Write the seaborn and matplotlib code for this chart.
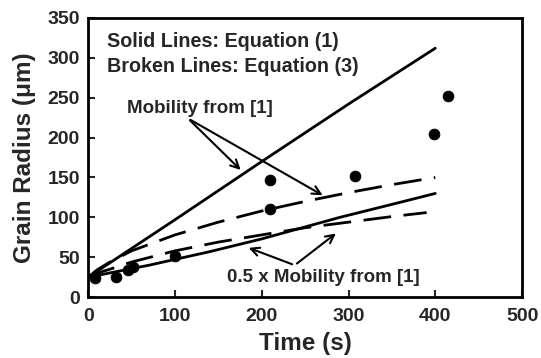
import matplotlib
matplotlib.use("Agg")
import matplotlib.pyplot as plt
import seaborn as sns

# ---- data ----
exp_time = [8, 32, 46, 52, 100, 209, 209, 308, 398, 415]
exp_radius = [24, 25, 34, 38, 52, 147, 111, 152, 205, 252]

eq1_time = [0, 100, 200, 300, 400]
eq1_full = [25, 97, 170, 242, 312]          # solid, mobility from [1]
eq1_half_time = [0, 70, 140, 200, 290, 360, 400]
eq1_half = [25, 40, 57, 73, 100, 119, 130]  # solid, 0.5 x mobility

eq3_time = [0, 10, 25, 50, 100, 150, 200, 250, 300, 350, 400]
eq3_full = [25, 34, 44, 58, 78, 94, 108, 120, 131, 141, 150]   # broken, mobility from [1]
eq3_half_time = [0, 10, 25, 50, 100, 150, 200, 250, 300, 350, 390]
eq3_half = [25, 30, 35, 44, 58, 69, 78, 87, 94, 101, 106]      # broken, 0.5 x mobility

x_ticks = [0, 100, 200, 300, 400, 500]
y_ticks = [0, 50, 100, 150, 200, 250, 300, 350]

sns.set_style("white")
plt.rcParams["font.family"] = ["Liberation Sans", "DejaVu Sans"]
plt.rcParams["font.weight"] = "bold"

fig = plt.figure(figsize=(5.41, 3.58), dpi=100)
ax = fig.add_axes([0.163, 0.170, 0.802, 0.780])

lw = 2.0
sns.lineplot(x=eq1_time, y=eq1_full, ax=ax, color="black", lw=lw)
sns.lineplot(x=eq1_half_time, y=eq1_half, ax=ax, color="black", lw=lw)
sns.lineplot(x=eq3_time, y=eq3_full, ax=ax, color="black", lw=lw)
sns.lineplot(x=eq3_half_time, y=eq3_half, ax=ax, color="black", lw=lw)
for line in ax.lines[2:4]:
    line.set_dashes((10, 4.5))
    line.set_dash_capstyle("butt")

sns.scatterplot(x=exp_time, y=exp_radius, ax=ax, color="black", s=60,
                edgecolor="black", zorder=5)

ax.set_xlim(0, 500)
ax.set_ylim(0, 350)
ax.set_xticks(x_ticks)
ax.set_yticks(y_ticks)
ax.tick_params(direction="in", length=5, width=1.5, labelsize=14,
               top=False, right=False, bottom=True, left=True)
ax.tick_params(axis="x", pad=8)
ax.tick_params(axis="y", pad=6)
for lab in ax.get_xticklabels() + ax.get_yticklabels():
    lab.set_fontweight("bold")
for sp in ax.spines.values():
    sp.set_visible(True)
    sp.set_color("black")
    sp.set_linewidth(2)

ax.set_xlabel("Time (s)", fontsize=17.5, fontweight="bold", labelpad=5)
ax.set_ylabel("Grain Radius (\u03bcm)", fontsize=17.5, fontweight="bold", labelpad=8)

ax.text(22, 320, "Solid Lines: Equation (1)", fontsize=14.2, fontweight="bold", va="center")
ax.text(22, 289, "Broken Lines: Equation (3)", fontsize=14.2, fontweight="bold", va="center")

aprops = dict(arrowstyle="->", color="black", lw=1.5, mutation_scale=15)
ax.text(45, 237, "Mobility from [1]", fontsize=13.5, fontweight="bold", va="center")
ax.annotate("", xy=(178, 157), xytext=(115, 224), arrowprops=aprops)
ax.annotate("", xy=(273, 126), xytext=(115, 224), arrowprops=aprops)

ax.text(160, 25, "0.5 x Mobility from [1]", fontsize=13.5, fontweight="bold", va="center")
ax.annotate("", xy=(182, 63), xytext=(238, 40), arrowprops=aprops)
ax.annotate("", xy=(288, 82), xytext=(238, 40), arrowprops=aprops)

fig.savefig("out.png", dpi=100)
